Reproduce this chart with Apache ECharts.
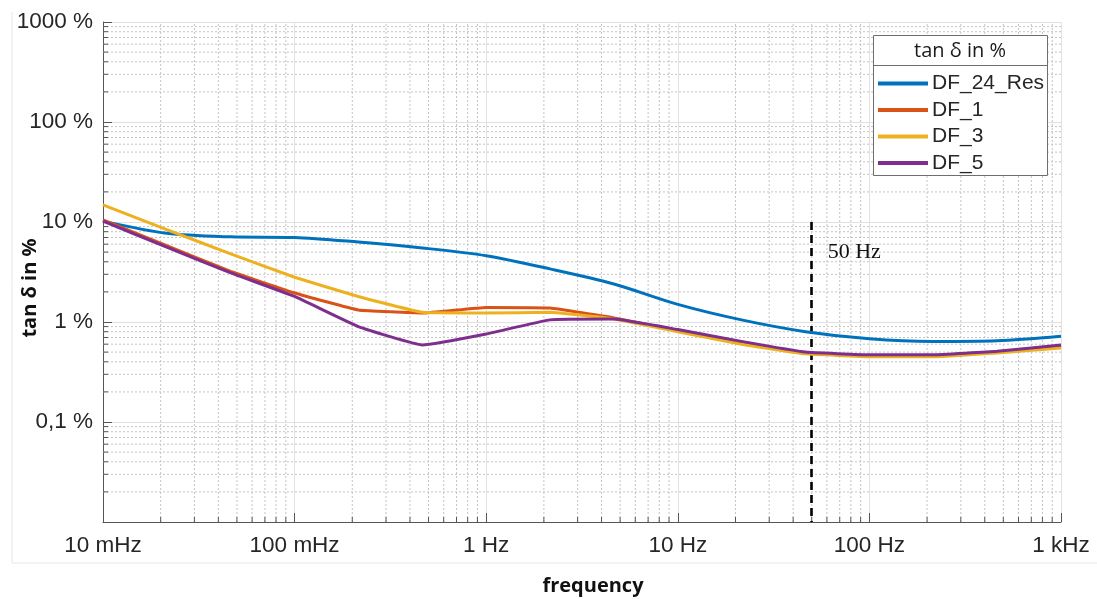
<!DOCTYPE html>
<html>
<head>
<meta charset="utf-8">
<script src="https://cdn.jsdelivr.net/npm/echarts@6/dist/echarts.min.js"></script>
<style>html,body{margin:0;padding:0;background:#fff;}#c{width:1097px;height:599px;}</style>
</head>
<body>
<div id="c"></div>
<script>
// ---- data ----
const freqs = [0.01, 0.0215, 0.0464, 0.1, 0.215, 0.464, 1, 2.15, 4.64, 10, 21.5, 46.4, 100, 215, 464, 1000];
const df24Res = [10.2, 7.7, 7.1, 7.0, 6.3, 5.5, 4.6, 3.4, 2.4, 1.5, 1.05, 0.8, 0.68, 0.64, 0.65, 0.72];
const df1     = [10.5, 5.8, 3.2, 1.95, 1.32, 1.23, 1.4, 1.38, 1.1, 0.82, 0.63, 0.49, 0.46, 0.46, 0.5, 0.57];
const df3     = [14.8, 8.4, 4.8, 2.8, 1.8, 1.25, 1.23, 1.25, 1.07, 0.8, 0.6, 0.48, 0.45, 0.45, 0.49, 0.55];
const df5     = [10.2, 5.6, 3.1, 1.8, 0.9, 0.59, 0.76, 1.05, 1.07, 0.84, 0.64, 0.5, 0.47, 0.47, 0.51, 0.59];
const seriesNames = ['DF_24_Res', 'DF_1', 'DF_3', 'DF_5'];
const xTickLabels = ['10 mHz', '100 mHz', '1 Hz', '10 Hz', '100 Hz', '1 kHz']; // 1e-2 .. 1e3
const yTickLabels = ['', '0,1 %', '1 %', '10 %', '100 %', '1000 %'];        // 1e-2 .. 1e3
const markerFreq = 50;
const markerLabel = '50 Hz';
const xMin = 0.01, xMax = 1000, yMin = 0.01, yMax = 1000;

const colors = ['#0072BD', '#D95319', '#EDB120', '#7E2F8E'];
const seriesData = [df24Res, df1, df3, df5];

// minor grid / tick positions (2..9 x decade)
const minorItems = [];
for (let e = -2; e < 3; e++) {
  for (let k = 2; k <= 9; k++) {
    const v = k * Math.pow(10, e);
    minorItems.push([v, yMin, 0]);
    minorItems.push([xMin, v, 1]);
  }
}

const tickFont = 'Liberation Sans, Arial, sans-serif';
const chart = echarts.init(document.getElementById('c'), null, {renderer: 'canvas'});

function labelFromLog(v, labels) {
  const e = Math.round(Math.log10(v)) + 2;
  return labels[e] !== undefined ? labels[e] : '';
}

const lineSeries = seriesNames.map((name, i) => ({
  name: name,
  type: 'line',
  data: freqs.map((f, j) => [f, seriesData[i][j]]),
  symbol: 'none',
  smooth: i === 0 ? 0.3 : 0.1,
  lineStyle: {color: colors[i], width: 3},
  itemStyle: {color: colors[i]},
  z: 5 + i
}));

lineSeries[0].markLine = {
  silent: true,
  symbol: ['none', 'none'],
  lineStyle: {color: '#000', type: [8, 5], width: 2.6},
  label: {show: false},
  data: [[{coord: [markerFreq, 10]}, {coord: [markerFreq, yMin]}]]
};
lineSeries[0].markPoint = {
  silent: true,
  symbol: 'circle',
  symbolSize: 0,
  label: {
    show: true, position: 'right', distance: 16,
    formatter: markerLabel,
    fontFamily: 'Liberation Serif, DejaVu Serif, serif',
    fontSize: 22, color: '#111'
  },
  data: [{coord: [markerFreq, 5]}]
};

const minorSeries = {
  type: 'custom',
  silent: true,
  clip: false,
  z: 1,
  data: minorItems,
  renderItem: function (params, api) {
    const flag = api.value(2);
    const v = flag === 0 ? api.value(0) : api.value(1);
    if (flag === 0) {
      const a = api.coord([v, yMin]);
      const b = api.coord([v, yMax]);
      return {type: 'group', children: [
        {type: 'line', shape: {x1: a[0], y1: a[1], x2: b[0], y2: b[1]},
         style: {stroke: '#c4c4c4', lineWidth: 1, lineDash: [2, 2]}},
        {type: 'line', shape: {x1: a[0], y1: a[1], x2: a[0], y2: a[1] - 5},
         style: {stroke: '#555', lineWidth: 1}}
      ]};
    } else {
      const a = api.coord([xMin, v]);
      const b = api.coord([xMax, v]);
      return {type: 'group', children: [
        {type: 'line', shape: {x1: a[0], y1: a[1], x2: b[0], y2: b[1]},
         style: {stroke: '#c4c4c4', lineWidth: 1, lineDash: [2, 2]}},
        {type: 'line', shape: {x1: a[0], y1: a[1], x2: a[0] + 5, y2: a[1]},
         style: {stroke: '#555', lineWidth: 1}}
      ]};
    }
  }
};

const option = {
  animation: false,
  backgroundColor: '#fff',
  grid: {left: 103, right: 36, top: 22, bottom: 77, containLabel: false},
  xAxis: {
    type: 'log', logBase: 10, min: xMin, max: xMax,
    axisLine: {show: true, lineStyle: {color: '#555', width: 1}},
    axisTick: {show: true, inside: true, length: 9, lineStyle: {color: '#555'}},
    axisLabel: {
      formatter: v => labelFromLog(v, xTickLabels),
      color: '#262626', fontFamily: tickFont, fontSize: 22.5, margin: 12,
      showMinLabel: true, showMaxLabel: true
    },
    splitLine: {show: true, lineStyle: {color: '#e2e2e2', width: 1}}
  },
  yAxis: {
    type: 'log', logBase: 10, min: yMin, max: yMax,
    axisLine: {show: true, lineStyle: {color: '#555', width: 1}},
    axisTick: {show: true, inside: true, length: 9, lineStyle: {color: '#555'}},
    axisLabel: {
      formatter: v => labelFromLog(v, yTickLabels),
      color: '#262626', fontFamily: tickFont, fontSize: 22.5, margin: 10,
      showMinLabel: true, showMaxLabel: true
    },
    splitLine: {show: true, lineStyle: {color: '#e2e2e2', width: 1}}
  },
  legend: {
    data: seriesNames,
    orient: 'vertical',
    left: 878, top: 73,
    padding: 0,
    itemWidth: 50, itemHeight: 4, itemGap: 5.5,
    icon: 'rect',
    textStyle: {fontFamily: tickFont, fontSize: 21, color: '#262626', lineHeight: 21, padding: [0, 0, 0, -1]},
    z: 20
  },
  graphic: [
    {type: 'line', shape: {x1: 12, y1: 12, x2: 12, y2: 563}, style: {stroke: '#e6e6e6', lineWidth: 1}, z: 0},
    {type: 'line', shape: {x1: 12, y1: 563, x2: 1097, y2: 563}, style: {stroke: '#e6e6e6', lineWidth: 1}, z: 0},
    {type: 'rect', shape: {x: 873.5, y: 35.5, width: 174, height: 140},
     style: {fill: '#fff', stroke: '#6e6e6e', lineWidth: 1}, z: 15},
    {type: 'line', shape: {x1: 873.5, y1: 65.5, x2: 1047.5, y2: 65.5},
     style: {stroke: '#6e6e6e', lineWidth: 1}, z: 16},
    {type: 'text', x: 960, y: 51, z: 16,
     style: {text: 'tan δ in %', fontFamily: 'Open Sans, sans-serif', fontSize: 20, fill: '#1a1a1a',
             textAlign: 'center', textVerticalAlign: 'middle'}},
    {type: 'text', x: 30, y: 288, rotation: Math.PI / 2, z: 16,
     style: {text: 'tan δ in %', fontFamily: 'Open Sans, sans-serif', fontWeight: 'bold', fontSize: 20, fill: '#111',
             textAlign: 'center', textVerticalAlign: 'middle'}},
    {type: 'text', x: 593, y: 586, z: 16,
     style: {text: 'frequency', fontFamily: 'Open Sans, sans-serif', fontWeight: 'bold', fontSize: 20, fill: '#111',
             textAlign: 'center', textVerticalAlign: 'middle'}}
  ],
  series: [minorSeries].concat(lineSeries)
};
chart.setOption(option);
</script>
</body>
</html>
